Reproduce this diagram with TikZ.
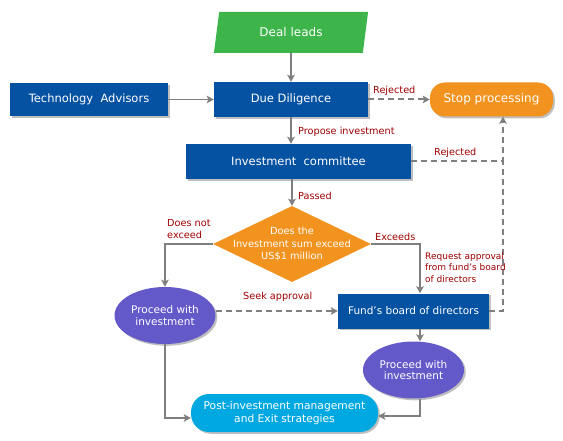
\documentclass[tikz,border=0pt]{standalone}
\usepackage{fontspec}
\setmainfont{DejaVu Sans}
\usetikzlibrary{shapes.geometric,arrows.meta,shadows}

\definecolor{leadgreen}{HTML}{3DB54A}
\definecolor{boxblue}{HTML}{0652A2}
\definecolor{stoporange}{HTML}{F2931F}
\definecolor{procpurple}{HTML}{6459C9}
\definecolor{postcyan}{HTML}{00A8E1}
\definecolor{linegray}{HTML}{7F7F7F}
\definecolor{lblred}{HTML}{A00000}

\tikzset{
  shade/.style={drop shadow={shadow xshift=1.8pt,shadow yshift=-1.8pt,fill=black!45,opacity=0.55}},
  lead/.style={trapezium, trapezium left angle=76, trapezium right angle=104, trapezium stretches=true,
    fill=leadgreen, text=white, inner sep=0pt, minimum width=155pt, minimum height=41pt,
    font=\fontsize{12}{14}\selectfont},
  bluebox/.style={rectangle, fill=boxblue, text=white, inner sep=0pt, shade,
    font=\fontsize{11.5}{13}\selectfont},
  stopbox/.style={rectangle, rounded corners=15pt, fill=stoporange, text=white, inner sep=0pt, shade,
    minimum width=123pt, minimum height=34pt, font=\fontsize{12}{14}\selectfont},
  decision/.style={diamond, fill=stoporange, inner sep=0pt, minimum width=158pt, minimum height=76pt},
  dectext/.style={text=white, align=center, font=\fontsize{9.8}{12.5}\selectfont},
  proceed/.style={ellipse, fill=procpurple, text=white, inner sep=0pt, shade, align=center,
    minimum width=101pt, minimum height=57pt, font=\fontsize{10.5}{11.8}\selectfont},
  postbox/.style={rectangle, rounded corners=18pt, fill=postcyan, text=white, inner sep=0pt, shade,
    align=center, minimum width=187pt, minimum height=38pt, font=\fontsize{10.7}{12.6}\selectfont},
  lbl/.style={text=lblred, inner sep=0pt, align=left, font=\fontsize{9.7}{11.8}\selectfont},
  conn/.style={draw=linegray, line width=1.6pt, -{Stealth[length=7pt,width=7.5pt,inset=1.5pt]}},
  dashconn/.style={conn, dash pattern=on 6pt off 4pt, line width=2pt},
  dashline/.style={draw=linegray, dash pattern=on 6pt off 4pt, line width=2pt}
}

\begin{document}
\begin{tikzpicture}[x=1pt,y=-1pt]
\useasboundingbox[fill=white] (0,0) rectangle (563,441);

% boxes
\node[lead] (deal) at (291,32.5) {Deal leads};
\node[bluebox, minimum width=158pt, minimum height=33pt] (tech) at (89,99.5) {Technology\ \ Advisors};
\node[bluebox, minimum width=154pt, minimum height=35pt] (dd) at (291,99.5) {Due Diligence};
\node[stopbox] (stop) at (491.5,99.5) {Stop processing};
\node[bluebox, minimum width=225pt, minimum height=35pt] (ic) at (298.5,161.5) {Investment\ \ committee};
\node[decision] (dec) at (292,244) {};
\node[dectext] (dectxt) at (dec) {Does the\\Investment sum exceed\\US\$1 million};
\node[proceed] (pl) at (165,315.5) {Proceed with\\investment};
\node[bluebox, minimum width=151pt, minimum height=35pt, font=\fontsize{10.5}{12}\selectfont] (board) at (413.5,311) {Fund's board of directors};
\node[proceed] (pr) at (413.5,370) {Proceed with\\investment};
\node[postbox] (post) at (284.5,413) {Post-investment management\\and Exit strategies};
\coordinate (rj) at (503,0);

% connectors
\draw[conn] (deal) -- (dd);
\draw[conn] (tech) -- (dd);
\draw[dashconn] (dd) -- (stop);
\draw[conn] (dd.south) -- (dd.south |- ic.north);
\draw[dashconn] (ic.east) -| (rj |- stop.south);
\draw[dashline] (board.east) -| (rj |- ic.east);
\draw[conn] (ic.south -| dec.north) -- (dec.north);
\draw[conn] (dec.west) -| (pl.north);
\draw[conn] (dec.east) -| ([xshift=6.5pt]board.north);
\draw[dashconn] (pl.east |- board.west) -- (board.west);
\draw[conn] ([xshift=6.5pt]board.south) -- ([xshift=6.5pt]pr.north);
\draw[conn] (pl.south) |- ([yshift=-5pt]post.west);
\draw[conn] ([xshift=6.5pt]pr.south) |- ([yshift=-3pt]post.east);

% labels
\node[lbl, anchor=base west] (rej1) at (373,94) {Rejected};
\node[lbl, anchor=base west] (prop) at (298,135) {Propose investment};
\node[lbl, anchor=base west] (rej2) at (434,156) {Rejected};
\node[lbl, anchor=base west] (pass) at (298,199.3) {Passed};
\node[lbl, anchor=north west] (notex) at (167,219.5) {Does not\\exceed};
\node[lbl, anchor=base west] (exc) at (375,241) {Exceeds};
\node[lbl, anchor=north west, font=\fontsize{9}{11.7}\selectfont] (req) at (425,252) {Request approval\\from fund's board\\of directors};
\node[lbl, anchor=base west] (seek) at (243,299) {Seek approval};
\end{tikzpicture}
\end{document}
